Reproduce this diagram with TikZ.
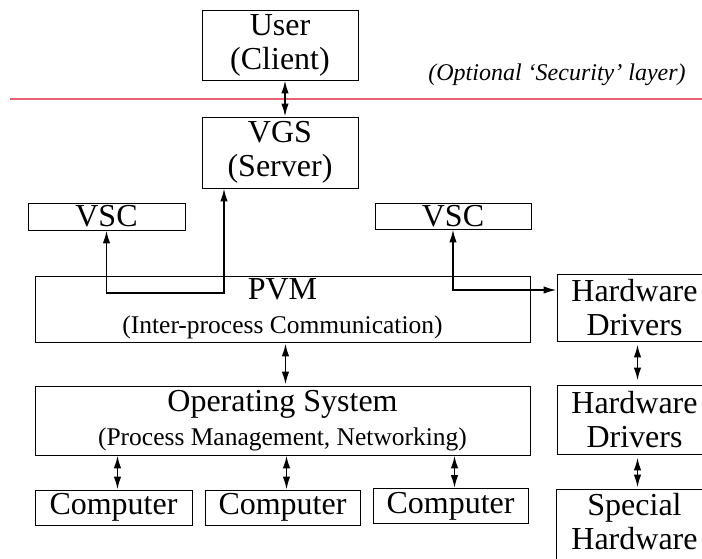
\documentclass[tikz,border=0pt]{standalone}
\usepackage{fontspec}
\setmainfont{Liberation Serif}
\usepackage{tikz}
\usetikzlibrary{arrows,arrows.meta,positioning,calc}
\definecolor{seclayer}{RGB}{236,96,118}

\newcommand{\subline}[1]{{\fontsize{25.5}{34}\selectfont #1}}

\tikzset{
  block/.style={draw,line width=0.9pt,inner sep=0pt,align=center,font=\fontsize{32}{34}\selectfont},
  link/.style={{Latex[length=13pt,width=7.5pt]}-{Latex[length=13pt,width=7.5pt]},line width=1.8pt},
}

\begin{document}
\begin{tikzpicture}[x=1pt,y=-1pt]

\clip (0,0) rectangle (702,558);

% client side
\node[block,minimum width=156,minimum height=70] (user) at (280,45) {User\\(Client)};
\node[font=\fontsize{24}{28}\selectfont\itshape] (sec) at (557,75) {(Optional `Security' layer)};
\draw[seclayer,line width=1.1pt] (10,99) -- (702,99);
\node[block,minimum width=156,minimum height=71] (vgs) at (280,152.5) {VGS\\(Server)};

\node[block,minimum width=157,minimum height=27] (vscl) at (106.5,216.5) {VSC};
\node[block,minimum width=156,minimum height=26] (vscr) at (453,216) {VSC};

% layers
\node[block,minimum width=495,minimum height=66] (pvm) at (282.5,309) {PVM\\\subline{(Inter-process Communication)}};
\node[block,minimum width=495,minimum height=69] (os) at (282.5,420.5) {Operating System\\\subline{(Process Management, Networking)}};

\node[block,minimum width=157,minimum height=35] (comp1) at (113.5,507.5) {Computer};
\node[block,minimum width=155,minimum height=35] (comp2) at (282.5,507.5) {Computer};
\node[block,minimum width=155,minimum height=35] (comp3) at (450.5,506) {Computer};

% hardware column
\node[block,minimum width=155,minimum height=67] (hd1) at (634.5,307.5) {Hardware\\Drivers};
\node[block,minimum width=155,minimum height=69] (hd2) at (634.5,419.5) {Hardware\\Drivers};
\node[block,draw=none,minimum width=155,minimum height=64] (sh) at (634.5,522) {Special\\Hardware};
\draw[line width=0.9pt] (sh.north west) rectangle ([yshift=-30pt]sh.south east);

\coordinate (jl) at (224,293);

\draw[link] ([xshift=5pt]user.south) -- ([xshift=5pt]vgs.north);
\draw[link] (vscl.south) |- (jl) -- (jl |- vgs.south);
\draw[link] (vscr.south) |- ([yshift=17.5pt]hd1.west);
\draw[link,shorten <=1pt,shorten >=1pt] ([xshift=3pt]pvm.south) -- ([xshift=3pt]os.north);
\draw[link,shorten <=3pt,shorten >=4pt] ([xshift=3pt]hd1.south) -- ([xshift=3pt]hd2.north);
\draw[link,shorten <=3pt,shorten >=2pt] ([xshift=3pt]hd2.south) -- ([xshift=3pt]sh.north);
\foreach \c in {comp1,comp2,comp3}
  \draw[link] ([xshift=4pt]os.south -| \c.north) -- ([xshift=4pt]\c.north);

\end{tikzpicture}
\end{document}
